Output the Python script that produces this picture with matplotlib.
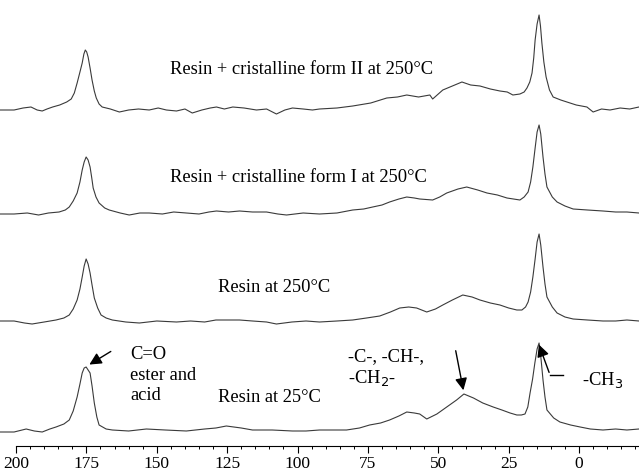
import matplotlib.pyplot as plt

# spectrum 1: resin + cristalline form II at 250 C
ppm1 = [205.7, 200.7, 197.5, 194.7, 192.5, 190.7, 189, 187, 184.5, 182, 180.4, 179.3, 178.3, 177.3,
        176.5, 175.9, 175.4, 174.9, 174.4, 173.7, 173, 172.2, 171.5, 170.5, 169.4, 166.5, 163.3,
        160, 156.5, 152.7, 149.5, 146.6, 143, 140, 137.4, 134, 131, 128.8, 126, 123, 119, 114.6,
        111, 107.5, 104.5, 101.8, 98, 94.7, 92.2, 86, 80.4, 74, 68.3, 64.5, 61.2, 57, 53, 52, 48.4,
        45, 41.6, 38.5, 35.2, 31.5, 28.1, 25.5, 23.5, 21, 19.5, 18.5, 17.5, 16.7, 16.1, 15.6, 14.9,
        14.2, 13.7, 13.2, 12.5, 11.7, 10.5, 9.2, 6.5, 4.3, 1, -2.8, -5, -8, -11, -14.6, -18, -21.3]
int1 = [0, 0, 2, 3, 0, -1, 1, 3, 5, 8, 11, 17, 27, 38,
        47, 56, 60, 58, 53, 42, 30, 19, 12, 6, 3, 1, -2,
        0, 1, 0, 2, 0, -1, 1, -3, 0, 2, 3, 1, 3, 2, 0,
        1, -4, 0, 2, 1, 0, 1, 2, 4, 7, 12, 13, 15, 13, 15, 11, 20,
        24, 28, 25, 24, 21, 19, 18, 15, 16, 18, 22, 28, 37, 52, 70, 86,
        95, 84, 67, 48, 33, 20, 13, 10, 8, 5, 3, -2, 1, 0, 2, 1, 3]

# spectrum 2: resin + cristalline form I at 250 C
ppm2 = [205.7, 200.7, 196, 192, 188.5, 184.7, 182.5, 181.1, 179.7, 178.3, 177.3, 176.5, 175.8,
        175.1, 174.4, 173.7, 173.1, 172.6, 171.6, 170.5, 168.5, 166.9, 163, 159.8, 156, 152.7, 148,
        144, 139.5, 135, 131.5, 128.8, 124.5, 120.6, 116, 111, 107, 103.9, 98, 92.2, 86, 80.4, 76.5,
        73.3, 70, 67.3, 64, 61.2, 58.5, 56.6, 52, 49.5, 47, 43, 39.9, 36, 32.7, 29, 25.6, 21, 19.5,
        18.1, 17.2, 16.4, 15.6, 14.9, 14.2, 13.6, 12.8, 12.1, 11.4, 9.5, 7.8, 5, 2.1, -3, -8.5, -13,
        -17, -21.3]
int2 = [0, 0, 1, -1, 1, 2, 4, 7, 13, 21, 32, 44, 52,
        57, 54, 47, 36, 26, 17, 11, 6, 4, 1, -1, 1, 1, 0,
        2, 1, 0, 2, 3, 2, 3, 2, 2, 0, -1, 1, 0, 1, 4, 5,
        7, 9, 12, 15, 17, 16, 15, 14, 17, 21, 25, 27, 24, 21, 19, 16, 14, 17,
        22, 32, 47, 66, 82, 89, 80, 57, 40, 27, 17, 12, 8, 5, 4, 3, 2,
        2, 1]

# spectrum 3: resin at 250 C
ppm3 = [205.7, 200.7, 197, 194.3, 190, 185.8, 183, 181.1, 179.7, 178.3, 177.3, 176.5, 175.8, 175.1,
        174.4, 173.7, 173, 172.2, 171, 169.8, 168, 165.8, 161, 156.2, 150, 143, 138, 133, 129,
        125.3, 120.6, 116, 111, 107.5, 102, 97, 92.2, 86, 80.4, 75.5, 70.8, 67, 63.7, 60.5, 57.7,
        54.1, 51, 48.4, 45, 41.3, 38, 35.2, 31.5, 28.1, 25, 22.1, 20.3, 19, 18.1, 17.2, 16.4, 15.6,
        14.9, 14.2, 13.6, 12.8, 12.1, 11.4, 9.5, 7.8, 5, 2.1, -3, -8.5, -13, -17, -21.3]
int3 = [1, 1, -1, -2, 0, 2, 4, 7, 13, 22, 33, 45, 56, 63,
        58, 49, 37, 24, 14, 7, 4, 2, 0, -1, 1, 0, 1, 0, 2,
        2, 2, 1, 0, -2, 0, 1, 0, 1, 2, 4, 6, 10, 14, 15, 14,
        10, 13, 17, 22, 27, 25, 22, 19, 17, 14, 12, 12, 15, 20, 30, 45, 63,
        80, 88, 77, 55, 38, 25, 15, 9, 5, 3, 2, 1, 1, 2, 1]

# spectrum 4: resin at 25 C
ppm4 = [205.7, 200.7, 196.4, 193.5, 190.7, 188, 185.8, 183, 181.1, 179.7, 178.3, 177.3, 176.5,
        175.8, 175.1, 174.4, 173.7, 173, 172.2, 171.3, 170.5, 168, 165.8, 160, 153.7, 147, 139.5,
        133, 129, 125.3, 120, 116, 109, 101.8, 97, 92.2, 82.6, 78, 74.4, 70.5, 67.3, 64, 61.2, 58.5,
        56.6, 54.1, 50.5, 47, 43.5, 40.9, 37.5, 34.2, 30.5, 27.4, 24.5, 22.1, 20.5, 19.2, 18.2, 17.4,
        16.5, 15.7, 14.9, 14.2, 13.6, 12.8, 12.1, 11.4, 9, 6.8, 3, -0.4, -4, -8.5, -13, -17, -21.3]
int4 = [-1, -1, 2, 0, -1, 2, 4, 7, 11, 20, 34, 47, 58,
        63, 64, 61, 58, 45, 28, 14, 6, 2, 1, 0, 2, 1, 0,
        2, 3, 5, 3, 1, 1, 0, 0, 1, 1, 3, 6, 8, 11, 15, 19, 18,
        17, 12, 17, 24, 31, 37, 33, 28, 24, 21, 18, 16, 16, 17, 24, 38,
        52, 68, 82, 88, 75, 51, 34, 21, 13, 9, 6, 4, 2, 1, 2, 1, 2]

labels = ['Resin + cristalline form II at 250°C', 'Resin + cristalline form I at 250°C',
          'Resin at 250°C', 'Resin at 25°C']

xticks = [200, 175, 150, 125, 100, 75, 50, 25, 0]

# vertical offsets of the stacked spectra
offsets = [336, 232, 124, 15]
label_pos = [(145.3, 377), (145.3, 268), (128.2, 158), (128.2, 48)]

plt.rcParams['font.family'] = ['Liberation Serif', 'DejaVu Serif']

fig = plt.figure(figsize=(6.39, 4.75), dpi=100)
ax = fig.add_axes([0, 29 / 475, 1, 446 / 475])

spectra = [(ppm1, int1), (ppm2, int2), (ppm3, int3), (ppm4, int4)]
for (x, y), off in zip(spectra, offsets):
    ax.plot(x, [v + off for v in y], color='#3a3a3a', lw=0.8)

for lab, (lx, ly) in zip(labels, label_pos):
    ax.text(lx, ly, lab, fontsize=13.3, ha='left', va='center')

# peak annotations
ax.text(159.5, 71, 'C=O\nester and\nacid', fontsize=13.3, ha='left', va='center', linespacing=1.3)
ax.annotate('', xy=(174.8, 80), xytext=(165.5, 96),
            arrowprops=dict(arrowstyle='-|>', color='black', lw=1, mutation_scale=18))

ax.text(82.1, 78, '-C-, -CH-,\n-CH$_2$-', fontsize=13.3, ha='left', va='center', linespacing=1.15)
ax.annotate('', xy=(40.9, 53), xytext=(44.0, 98),
            arrowprops=dict(arrowstyle='-|>', color='black', lw=1, mutation_scale=18))

ax.text(-1.1, 66, '-CH$_3$', fontsize=13.3, ha='left', va='center')
ax.plot([5.7, 10.3], [71, 71], color='black', lw=1)
ax.annotate('', xy=(14.6, 104), xytext=(10.3, 71),
            arrowprops=dict(arrowstyle='-|>', color='black', lw=1, mutation_scale=18))

ax.set_xlim(205.7, -21.3)
ax.set_ylim(0, 446)
ax.set_xticks(xticks)
ax.set_xticks(range(200, -25, -5), minor=True)
ax.tick_params(axis='x', which='major', direction='out', length=5, width=0.8, labelsize=12.5, pad=2.5)
ax.tick_params(axis='x', which='minor', direction='out', length=2.5, width=0.7)
ax.set_yticks([])
for s in ['left', 'right', 'top']:
    ax.spines[s].set_visible(False)
ax.spines['bottom'].set_bounds(200, -21.3)
ax.spines['bottom'].set_linewidth(0.8)
ax.patch.set_visible(False)

fig.savefig('out.png', dpi=100)
